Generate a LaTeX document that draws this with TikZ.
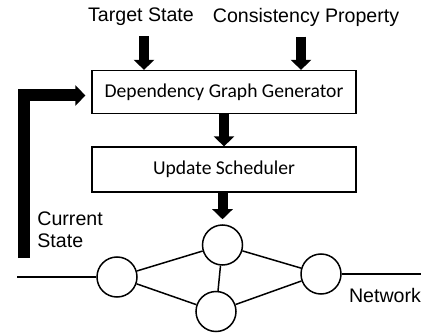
\documentclass[tikz,border=0pt]{standalone}
\usepackage{fontspec}
\setmainfont{Liberation Sans}
\newfontfamily\boxfont{Carlito}
\usetikzlibrary{arrows.meta}
\tikzset{
	blk/.style={draw=black,line width=0.6pt,minimum width=132pt,minimum height=21.5pt,inner sep=0pt,font=\boxfont\fontsize{9.8}{12}\selectfont},
	sw/.style={circle,draw=black,line width=0.75pt,minimum size=20pt,inner sep=0pt},
	lbl/.style={inner sep=0pt,font=\fontsize{9.8}{10.8}\selectfont},
	fat/.style={line width=5pt,-{Triangle[width=10pt,length=5pt]}}
}
\begin{document}
\begin{tikzpicture}[x=0.5pt,y=-0.5pt]
		\useasboundingbox (0,0) rectangle (433,336);
		
		% inputs
		\node[lbl] (tgt) at (141,17) {Target State};
		\node[lbl] (cons) at (306,17) {Consistency Property};
		
		% boxes
		\node[blk] (gen) at (224,92) {Dependency Graph Generator};
		\node[blk,minimum height=22.5pt] (sched) at (224,169.5) {Update Scheduler};
		
		% network
		\node[sw] (n1) at (117,277) {};
		\node[sw] (n2) at (222.5,245) {};
		\node[sw] (n3) at (216,311.5) {};
		\node[sw] (n4) at (321,274) {};
		\coordinate (lend) at (17,277);
		\coordinate (rend) at (421,274);
		\coordinate (fbk) at (24,258);
		
		\draw[line width=0.75pt] (lend) -- (n1);
		\draw[line width=0.75pt] (n4) -- (rend);
		\draw[line width=0.75pt] (n1) -- (n2);
		\draw[line width=0.75pt] (n1) -- (n3);
		\draw[line width=0.75pt] (n2) -- (n3);
		\draw[line width=0.75pt] (n2) -- (n4);
		\draw[line width=0.75pt] (n3) -- (n4);
		
		\node[lbl,align=left,anchor=west] (cur) at (37,230) {Current\\State};
		\node[lbl] (net) at (385,295) {Network};
		
		% arrows
		\draw[fat] ([xshift=1.5pt,yshift=-5pt]tgt.south) -- ([xshift=1.5pt]tgt.south |- gen.north);
		\draw[fat] ([xshift=-2.5pt,yshift=-5pt]cons.south) -- ([xshift=-2.5pt]cons.south |- gen.north);
		\draw[fat] (gen.south) -- (sched.north);
		\draw[fat,shorten >=2.5pt] (sched.south -| n2) -- (n2.north);
		\draw[line width=6pt,-{Triangle[width=10pt,length=5pt]},shorten >=3pt] (fbk) |- ([yshift=-1.75pt]gen.west);
		
\end{tikzpicture}
\end{document}
